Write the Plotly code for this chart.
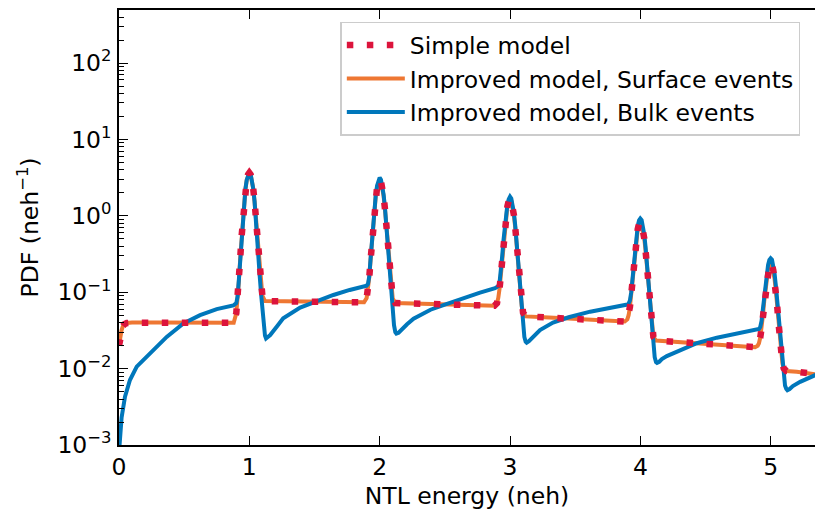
import plotly.graph_objects as go

# ---------------- data ----------------
surface_x = [0, 0.01, 0.02, 0.03, 0.04, 0.06, 0.1, 0.3, 0.5, 0.7, 0.85, 0.88,
             0.90, 0.91, 0.92, 0.93, 0.94, 0.95, 0.96, 0.97, 0.98, 0.99, 1.00,
             1.01, 1.02, 1.03, 1.04, 1.05, 1.06, 1.07, 1.08, 1.09, 1.10,
             1.12, 1.3, 1.5, 1.7, 1.88,
             1.90, 1.91, 1.92, 1.93, 1.94, 1.95, 1.96, 1.97, 1.98, 1.99, 2.00,
             2.01, 2.02, 2.03, 2.04, 2.05, 2.06, 2.07, 2.08, 2.09, 2.10,
             2.12, 2.3, 2.5, 2.7, 2.88,
             2.90, 2.91, 2.92, 2.93, 2.94, 2.95, 2.96, 2.97, 2.98, 2.99, 3.00,
             3.01, 3.02, 3.03, 3.04, 3.05, 3.06, 3.07, 3.08, 3.09, 3.10,
             3.12, 3.3, 3.5, 3.7, 3.88,
             3.90, 3.91, 3.92, 3.93, 3.94, 3.95, 3.96, 3.97, 3.98, 3.99, 4.00,
             4.01, 4.02, 4.03, 4.04, 4.05, 4.06, 4.07, 4.08, 4.09, 4.10,
             4.12, 4.3, 4.5, 4.7, 4.88,
             4.90, 4.91, 4.92, 4.93, 4.94, 4.95, 4.96, 4.97, 4.98, 4.99, 5.00,
             5.01, 5.02, 5.03, 5.04, 5.05, 5.06, 5.07, 5.08, 5.09, 5.10,
             5.12, 5.2, 5.3, 5.4]
surface_y = [0.020, 0.027, 0.032, 0.036, 0.038, 0.0395, 0.040, 0.040, 0.0398, 0.0396, 0.0395, 0.0398,
             0.053, 0.079, 0.142, 0.276, 0.526, 0.937, 1.52, 2.23, 2.93, 3.46, 3.66,
             3.47, 2.95, 2.26, 1.55, 0.970, 0.561, 0.312, 0.179, 0.116, 0.090,
             0.0765, 0.0755, 0.075, 0.074, 0.0738,
             0.084, 0.105, 0.155, 0.262, 0.462, 0.790, 1.257, 1.82, 2.38, 2.80, 2.95,
             2.80, 2.38, 1.82, 1.256, 0.789, 0.461, 0.261, 0.154, 0.104, 0.083,
             0.0721, 0.0705, 0.069, 0.0675, 0.0665,
             0.072, 0.084, 0.112, 0.170, 0.281, 0.461, 0.717, 1.028, 1.336, 1.563, 1.647,
             1.559, 1.327, 1.016, 0.703, 0.445, 0.263, 0.153, 0.094, 0.066, 0.054,
             0.0482, 0.0465, 0.0448, 0.043, 0.0413,
             0.044, 0.050, 0.064, 0.093, 0.147, 0.237, 0.364, 0.518, 0.670, 0.781, 0.822,
             0.777, 0.661, 0.506, 0.350, 0.221, 0.130, 0.075, 0.0456, 0.0318, 0.026,
             0.0233, 0.0222, 0.0211, 0.0200, 0.0191,
             0.0199, 0.0215, 0.0255, 0.0338, 0.0493, 0.0748, 0.111, 0.154, 0.198, 0.229, 0.240,
             0.227, 0.193, 0.148, 0.103, 0.066, 0.0399, 0.0242, 0.0157, 0.0117, 0.0101,
             0.0093, 0.0091, 0.0086, 0.0082]

simple_x = [0, 0.01, 0.02, 0.03, 0.04, 0.06, 0.1, 0.3, 0.5, 0.7, 0.85, 0.88,
            0.90, 0.91, 0.92, 0.93, 0.94, 0.95, 0.96, 0.97, 0.98, 0.99, 1.00,
            1.01, 1.02, 1.03, 1.04, 1.05, 1.06, 1.07, 1.08, 1.09, 1.10,
            1.12, 1.3, 1.5, 1.7, 1.88,
            1.90, 1.91, 1.92, 1.93, 1.94, 1.95, 1.96, 1.97, 1.98, 1.99, 2.00,
            2.01, 2.02, 2.03, 2.04, 2.05, 2.06, 2.07, 2.08, 2.09, 2.10,
            2.12, 2.3, 2.5, 2.7, 2.88,
            2.90, 2.91, 2.92, 2.93, 2.94, 2.95, 2.96, 2.97, 2.98, 2.99, 3.00,
            3.01, 3.02, 3.03, 3.04, 3.05, 3.06, 3.07, 3.08, 3.09, 3.10,
            3.12, 3.3, 3.5, 3.7, 3.88,
            3.90, 3.91, 3.92, 3.93, 3.94, 3.95, 3.96, 3.97, 3.98, 3.99, 4.00,
            4.01, 4.02, 4.03, 4.04, 4.05, 4.06, 4.07, 4.08, 4.09, 4.10,
            4.12, 4.3, 4.5, 4.7, 4.88,
            4.90, 4.91, 4.92, 4.93, 4.94, 4.95, 4.96, 4.97, 4.98, 4.99, 5.00,
            5.01, 5.02, 5.03, 5.04, 5.05, 5.06, 5.07, 5.08, 5.09, 5.10,
            5.12, 5.2, 5.3, 5.4]
simple_y = [0.020, 0.027, 0.032, 0.036, 0.038, 0.0395, 0.040, 0.040, 0.0398, 0.0396, 0.0395, 0.0398,
            0.053, 0.079, 0.142, 0.276, 0.526, 0.937, 1.52, 2.23, 2.93, 3.46, 3.66,
            3.47, 2.95, 2.26, 1.55, 0.970, 0.561, 0.312, 0.179, 0.116, 0.090,
            0.0765, 0.0755, 0.075, 0.074, 0.0738,
            0.084, 0.105, 0.155, 0.262, 0.462, 0.790, 1.257, 1.82, 2.38, 2.80, 2.95,
            2.80, 2.38, 1.82, 1.256, 0.789, 0.461, 0.261, 0.154, 0.104, 0.083,
            0.0721, 0.0705, 0.069, 0.0675, 0.0665,
            0.072, 0.084, 0.112, 0.170, 0.281, 0.461, 0.717, 1.028, 1.336, 1.563, 1.647,
            1.559, 1.327, 1.016, 0.703, 0.445, 0.263, 0.153, 0.094, 0.066, 0.054,
            0.0482, 0.0465, 0.0448, 0.043, 0.0413,
            0.044, 0.050, 0.064, 0.093, 0.147, 0.237, 0.364, 0.518, 0.670, 0.781, 0.822,
            0.777, 0.661, 0.506, 0.350, 0.221, 0.130, 0.075, 0.0456, 0.0318, 0.026,
            0.0233, 0.0222, 0.0211, 0.0200, 0.0191,
            0.0199, 0.0215, 0.0255, 0.0338, 0.0493, 0.0748, 0.111, 0.154, 0.198, 0.229, 0.240,
            0.227, 0.193, 0.148, 0.103, 0.066, 0.0399, 0.0242, 0.0157, 0.0117, 0.0101,
            0.0093, 0.0091, 0.0086, 0.0082]

bulk_x = [0, 0.005, 0.01, 0.02, 0.046, 0.084, 0.136, 0.238, 0.366, 0.494, 0.622, 0.75, 0.877,
          0.90, 0.91, 0.92, 0.93, 0.94, 0.95, 0.96, 0.97, 0.98, 0.99, 1.00,
          1.01, 1.02, 1.03, 1.04, 1.05, 1.06, 1.07, 1.08, 1.09, 1.10, 1.11, 1.12,
          1.128, 1.14, 1.16, 1.21, 1.26, 1.39, 1.5, 1.645, 1.77, 1.88,
          1.90, 1.91, 1.92, 1.93, 1.94, 1.95, 1.96, 1.97, 1.98, 1.99, 2.00,
          2.01, 2.02, 2.03, 2.04, 2.05, 2.06, 2.07, 2.08, 2.09, 2.10, 2.11, 2.12,
          2.128, 2.145, 2.165, 2.21, 2.26, 2.39, 2.5, 2.65, 2.77, 2.885,
          2.90, 2.91, 2.92, 2.93, 2.94, 2.95, 2.96, 2.97, 2.98, 2.99, 3.00,
          3.01, 3.02, 3.03, 3.04, 3.05, 3.06, 3.07, 3.08, 3.09, 3.10, 3.11, 3.12,
          3.128, 3.145, 3.167, 3.23, 3.33, 3.45, 3.615, 3.79, 3.896,
          3.90, 3.91, 3.92, 3.93, 3.94, 3.95, 3.96, 3.97, 3.98, 3.99, 4.00,
          4.01, 4.02, 4.03, 4.04, 4.05, 4.06, 4.07, 4.08, 4.09, 4.10, 4.11, 4.12,
          4.128, 4.145, 4.165, 4.203, 4.331, 4.433, 4.587, 4.766, 4.894,
          4.90, 4.91, 4.92, 4.93, 4.94, 4.95, 4.96, 4.97, 4.98, 4.99, 5.00,
          5.01, 5.02, 5.03, 5.04, 5.05, 5.06, 5.07, 5.08, 5.09, 5.10, 5.11, 5.12,
          5.128, 5.145, 5.17, 5.226, 5.28, 5.34, 5.4]
bulk_y = [0.0008, 0.0012, 0.0016, 0.0023, 0.0043, 0.0071, 0.0106, 0.0159, 0.026, 0.039, 0.050, 0.060, 0.067,
          0.072, 0.088, 0.148, 0.28, 0.53, 0.94, 1.53, 2.25, 2.95, 3.50, 3.70,
          3.50, 2.96, 2.26, 1.55, 0.96, 0.54, 0.29, 0.16, 0.095, 0.058, 0.037, 0.027,
          0.0248, 0.0255, 0.0275, 0.0353, 0.0455, 0.063, 0.075, 0.092, 0.107, 0.119,
          0.122, 0.128, 0.16, 0.27, 0.47, 0.80, 1.29, 1.88, 2.48, 2.95, 3.15,
          2.97, 2.51, 1.91, 1.31, 0.80, 0.46, 0.25, 0.14, 0.085, 0.053, 0.037, 0.030,
          0.0288, 0.0295, 0.032, 0.038, 0.045, 0.059, 0.069, 0.085, 0.099, 0.113,
          0.115, 0.120, 0.135, 0.185, 0.295, 0.48, 0.75, 1.07, 1.40, 1.65, 1.78,
          1.68, 1.43, 1.09, 0.75, 0.47, 0.27, 0.15, 0.088, 0.056, 0.036, 0.026, 0.0225,
          0.0218, 0.0228, 0.025, 0.032, 0.040, 0.047, 0.0556, 0.063, 0.0675,
          0.069, 0.071, 0.078, 0.10, 0.16, 0.26, 0.40, 0.57, 0.74, 0.87, 0.92,
          0.88, 0.75, 0.57, 0.39, 0.245, 0.14, 0.078, 0.046, 0.029, 0.019, 0.0141, 0.0122,
          0.0119, 0.0123, 0.0133, 0.0146, 0.0184, 0.0215, 0.0254, 0.029, 0.032,
          0.0325, 0.033, 0.035, 0.042, 0.060, 0.090, 0.13, 0.178, 0.228, 0.264, 0.278,
          0.267, 0.227, 0.174, 0.12, 0.077, 0.046, 0.027, 0.017, 0.011, 0.0078, 0.006, 0.0054,
          0.0052, 0.0054, 0.0059, 0.0067, 0.0074, 0.0082, 0.0088]

x_ticks = [0, 1, 2, 3, 4, 5]
x_tick_labels = ["0", "1", "2", "3", "4", "5"]
y_ticks = [1e-3, 1e-2, 1e-1, 1e0, 1e1, 1e2]
y_tick_labels = ["10<sup>−3</sup>", "10<sup>−2</sup>", "10<sup>−1</sup>",
                 "10<sup>0</sup>", "10<sup>1</sup>", "10<sup>2</sup>"]
y_minor_ticks = [2e-3, 3e-3, 4e-3, 5e-3, 6e-3, 7e-3, 8e-3, 9e-3,
                 2e-2, 3e-2, 4e-2, 5e-2, 6e-2, 7e-2, 8e-2, 9e-2,
                 2e-1, 3e-1, 4e-1, 5e-1, 6e-1, 7e-1, 8e-1, 9e-1,
                 2e0, 3e0, 4e0, 5e0, 6e0, 7e0, 8e0, 9e0,
                 2e1, 3e1, 4e1, 5e1, 6e1, 7e1, 8e1, 9e1,
                 2e2, 3e2, 4e2]

# ---------------- figure ----------------
FONT = "DejaVu Sans"
FS = 23.5
Y_RANGE = [-3, 2.694]
TXT = dict(family=FONT, size=FS, color="black")

fig = go.Figure()
fig.add_trace(go.Scatter(
    x=surface_x, y=surface_y, mode="lines", name="Improved model, Surface events",
    line=dict(color="#EE7733", width=4), legendrank=2))
fig.add_trace(go.Scatter(
    x=bulk_x, y=bulk_y, mode="lines", name="Improved model, Bulk events",
    line=dict(color="#0077BB", width=4), legendrank=3))
fig.add_trace(go.Scatter(
    x=simple_x, y=simple_y, mode="lines", name="Simple model",
    line=dict(color="#DC143C", width=6.5, dash="6.5px,13.5px"), legendrank=1))
# empty helper trace so the minor-tick axis is drawn
fig.add_trace(go.Scatter(x=[None], y=[None], yaxis="y2", showlegend=False,
                         hoverinfo="skip", mode="lines"))

fig.update_layout(
    width=815, height=516,
    margin=dict(l=119, r=0, t=10, b=71),
    paper_bgcolor="white", plot_bgcolor="white",
    font=TXT,
    showlegend=True,
    legend=dict(x=0.318, y=0.973, xanchor="left", yanchor="top",
                bgcolor="white", bordercolor="#cccccc", borderwidth=1.5,
                itemwidth=58, font=TXT),
    xaxis=dict(
        range=[0, 5.34], tickmode="array", tickvals=x_ticks, ticktext=x_tick_labels,
        ticks="inside", ticklen=9, tickwidth=1.3, tickcolor="black",
        showline=True, linecolor="black", linewidth=1.5, mirror="ticks",
        showgrid=False, zeroline=False, ticklabelstandoff=0, tickfont=TXT,
        title=dict(text="NTL energy (neh)", font=TXT, standoff=8)),
    yaxis=dict(
        type="log", range=Y_RANGE, tickmode="array", tickvals=y_ticks, ticktext=y_tick_labels,
        ticks="inside", ticklen=9, tickwidth=1.3, tickcolor="black",
        showline=True, linecolor="black", linewidth=1.5,
        showgrid=False, zeroline=False, ticklabelstandoff=1, tickfont=TXT,
        title=dict(text="PDF (neh<sup>−1</sup>)", font=TXT, standoff=12)),
    yaxis2=dict(overlaying="y", side="left", anchor="x", type="log", range=Y_RANGE,
                tickmode="array", tickvals=y_minor_ticks, showticklabels=False,
                ticks="inside", ticklen=5, tickwidth=1, tickcolor="black",
                showline=False, showgrid=False, zeroline=False),
)

fig.write_html("out.html")
